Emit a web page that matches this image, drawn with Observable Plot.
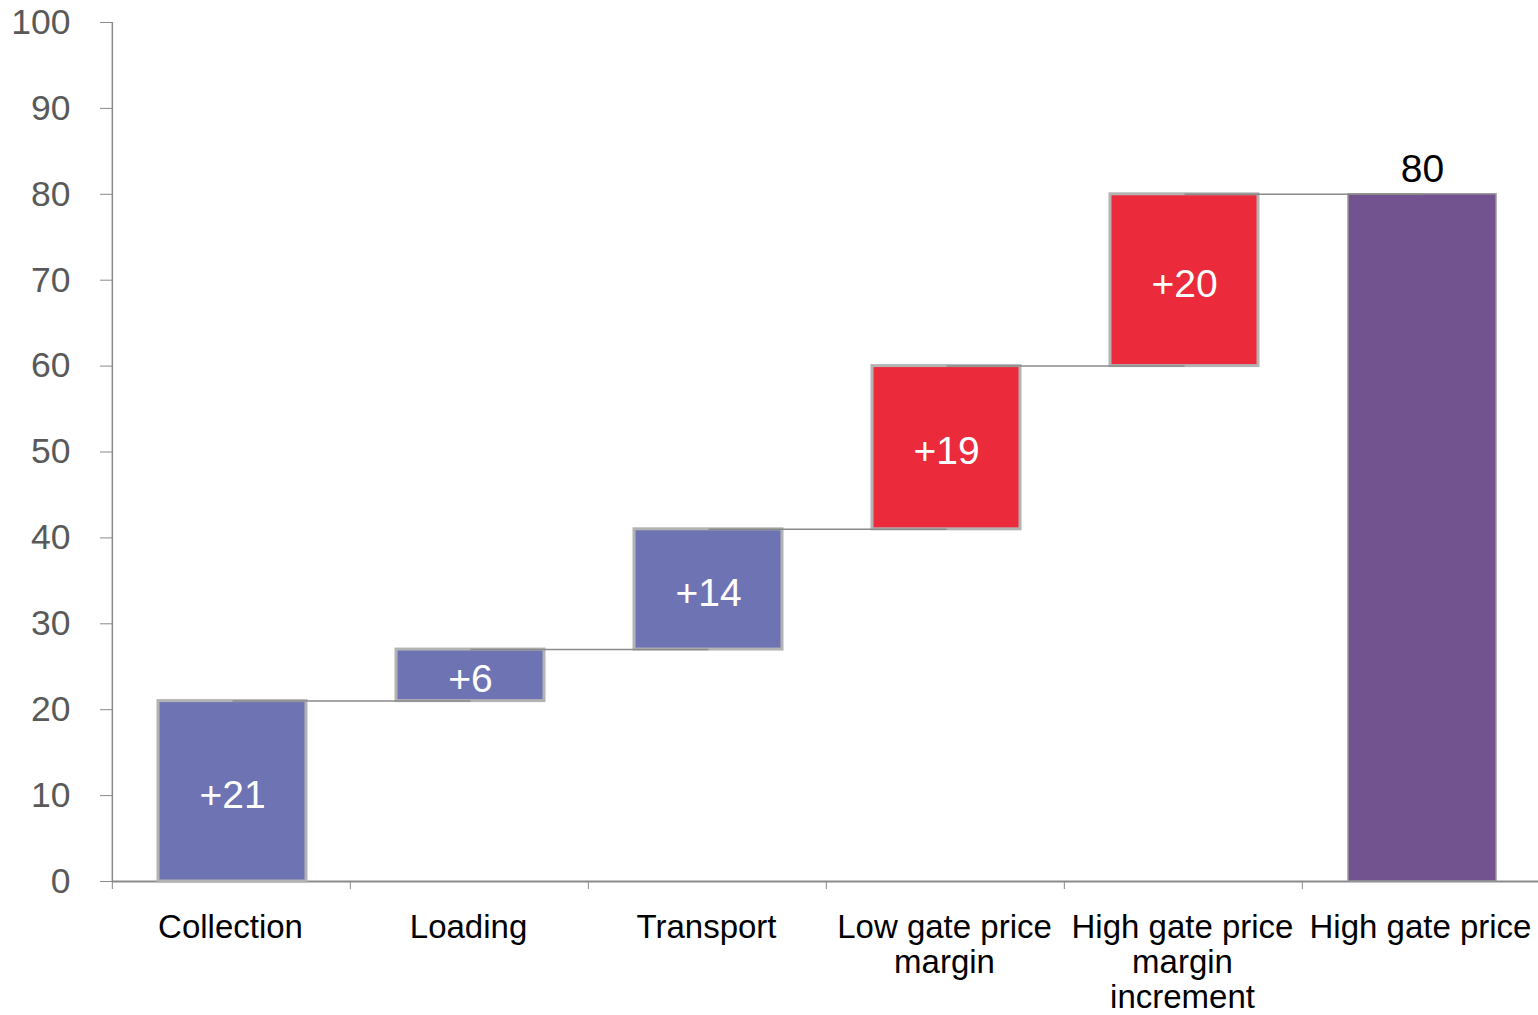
<!DOCTYPE html>
<html>
<head>
<meta charset="utf-8">
<script src="https://cdn.jsdelivr.net/npm/d3@7"></script>
<script src="https://cdn.jsdelivr.net/npm/@observablehq/plot@0.6"></script>
<style>
  html, body { margin: 0; padding: 0; background: #fff; }
  #chart svg { display: block; font-family: "Liberation Sans", Arial, sans-serif; }
</style>
</head>
<body>
<div id="chart"></div>
<script>
// Waterfall: cost build-up to the high gate price
const categories = [
  "Collection",
  "Loading",
  "Transport",
  "Low gate price\nmargin",
  "High gate price\nmargin\nincrement",
  "High gate price"
];
const steps = [21, 6, 14, 19, 20];      // increments
const total = 80;                        // final bar
const kinds = ["cost", "cost", "cost", "margin", "margin", "total"];
const yTicks = [0, 10, 20, 30, 40, 50, 60, 70, 80, 90, 100];

// floating segments built from the increments
let run = 0;
const bars = categories.map((name, i) => {
  if (kinds[i] === "total") return {name, kind: kinds[i], start: 0, end: total, label: String(total)};
  const start = run;
  run += steps[i];
  return {name, kind: kinds[i], start, end: run, label: `+${steps[i]}`};
});
const connectors = bars.slice(0, -1).map((b, i) => ({from: b.name, to: bars[i + 1].name, level: b.end}));

const W = 1538, H = 1015;
// the last category band runs slightly past the right edge
const mL = 112, mR = -4, mT = 22, mB = 134;
const halfStep = (W - mL - mR) / categories.length / 2;

const chart = Plot.plot({
  width: W,
  height: H,
  marginLeft: mL,
  marginRight: mR,
  marginTop: mT,
  marginBottom: mB,
  style: {fontFamily: '"Liberation Sans", Arial, sans-serif', background: "#fff", overflow: "hidden"},
  x: {domain: categories, paddingInner: 0.38, paddingOuter: 0.19, label: null},
  y: {domain: [0, 100], label: null},
  color: {domain: ["cost", "margin", "total"], range: ["#6e74b3", "#eb2a3b", "#725390"]},
  marks: [
    // axis lines
    Plot.ruleX([categories[0]], {dx: -halfStep - 1, stroke: "#8a8a8a", strokeWidth: 1.5}),
    Plot.ruleY([0], {stroke: "#8a8a8a", strokeWidth: 2}),
    Plot.axisY({ticks: yTicks, tickSize: 12, tickPadding: 30, fontSize: 35.5, stroke: "#8a8a8a", fill: "#595959", label: null}),
    // category boundary ticks
    Plot.axisX({tickSize: 8, tickFormat: () => "", dx: -halfStep - 1, stroke: "#8a8a8a", label: null}),
    // category labels
    Plot.axisX({tickSize: 0, tickPadding: 32, fontSize: 33, lineHeight: 1.06, fill: "#000", dx: -2, label: null}),
    Plot.barY(bars.filter(d => d.kind !== "total"), {
      x: "name", y1: "start", y2: "end", fill: "kind", stroke: "#b3b3b3", strokeWidth: 3
    }),
    Plot.barY(bars.filter(d => d.kind === "total"), {
      x: "name", y1: "start", y2: "end", fill: "kind", stroke: "#999", strokeWidth: 1.5
    }),
    Plot.link(connectors, {x1: "from", x2: "to", y1: "level", y2: "level", stroke: "#8a8a8a", strokeWidth: 1.5}),
    Plot.text(bars.filter(d => d.kind !== "total"), {
      x: "name", y: d => (d.start + d.end) / 2, text: "label", fill: "#fff", fontSize: 39, dy: 4
    }),
    Plot.text(bars.filter(d => d.kind === "total"), {
      x: "name", y: "end", text: "label", fill: "#000", fontSize: 39, lineAnchor: "bottom", dy: -12
    })
  ]
});
document.getElementById("chart").append(chart);
</script>
</body>
</html>
